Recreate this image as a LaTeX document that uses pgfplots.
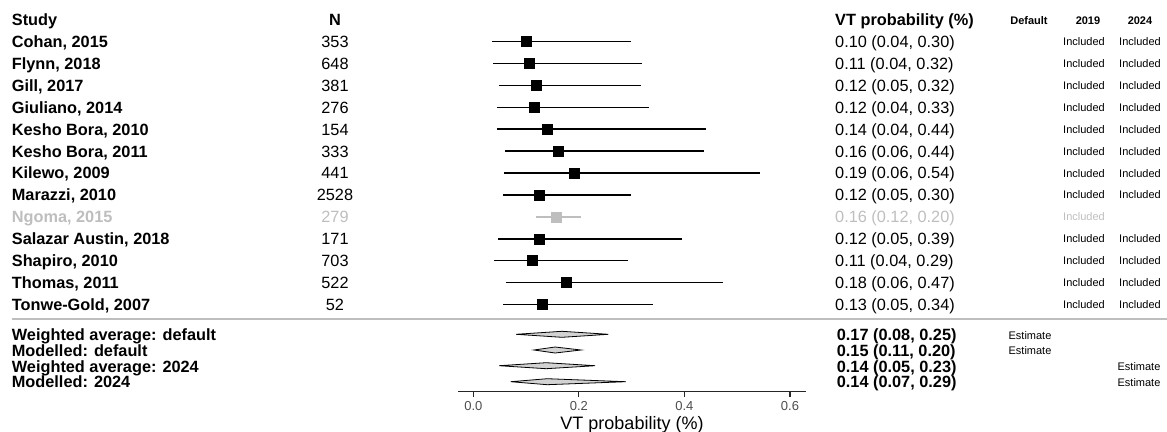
\documentclass[border=0pt]{standalone}
\usepackage{fontspec}
\setmainfont{Liberation Sans}
\usepackage{pgfplots}
\pgfplotsset{compat=1.18}
\usepackage{pgfplotstable}

\definecolor{dimgrey}{HTML}{BEBEBE}
\definecolor{ticklab}{HTML}{4D4D4D}
\definecolor{diamondfill}{HTML}{D3D3D3}

\newcommand\fbig{\fontsize{16.3bp}{18bp}\selectfont}
\newcommand\fsmall{\fontsize{11bp}{12bp}\selectfont}

% y = minus the row's distance from the top of the figure (bp)
\pgfplotstableread{
y        est     lo      hi
-41.6    0.100   0.036   0.299
-63.5    0.106   0.038   0.320
-85.4    0.119   0.049   0.318
-107.3   0.116   0.044   0.333
-129.2   0.140   0.045   0.440
-151.1   0.161   0.060   0.438
-173.0   0.191   0.059   0.543
-194.9   0.124   0.056   0.299
-238.7   0.124   0.047   0.395
-260.6   0.111   0.040   0.293
-282.5   0.176   0.062   0.473
-304.4   0.130   0.056   0.340
}\studies

\pgfplotstableread{
y        est     lo      hi
-216.8   0.158   0.118   0.204
}\ngoma

\begin{document}
\begin{tikzpicture}
\path[use as bounding box] (0,0) rectangle (1167bp,-432bp);

\begin{axis}[
  at={(458bp,-391.7bp)}, anchor=south west,
  scale only axis, width=348bp, height=391.7bp,
  xmin=-0.029, xmax=0.6304, ymin=-391.7, ymax=0,
  hide y axis, axis x line*=bottom,
  axis line style={-, line width=1.2bp, black!85},
  xtick={0,0.2,0.4,0.6},
  xticklabel style={/pgf/number format/fixed, /pgf/number format/fixed zerofill,
    /pgf/number format/precision=1, /pgf/number format/assume math mode=true,
    font=\fontsize{13bp}{13bp}\selectfont, text=ticklab, inner sep=0pt,
    anchor=base, yshift=-14bp},
  tick align=outside, major tick length=5bp,
  every tick/.style={black!85, line width=1.2bp},
  xlabel={VT probability (\%)},
  xlabel style={font=\fontsize{18bp}{18bp}\selectfont, inner sep=0pt,
    at={(axis description cs:0.5,0)}, anchor=base, yshift=-37.6bp},
  clip=false,
]
\addplot[black, only marks, mark=square*, mark size=5bp,
  error bars/.cd, x dir=both, x explicit, error mark=none,
  error bar style={line width=1.6bp, black}]
  table[x=est, y=y, x error plus expr=\thisrow{hi}-\thisrow{est},
        x error minus expr=\thisrow{est}-\thisrow{lo}] {\studies};
\addplot[dimgrey, only marks, mark=square*, mark size=5bp,
  error bars/.cd, x dir=both, x explicit, error mark=none,
  error bar style={line width=1.6bp, dimgrey}]
  table[x=est, y=y, x error plus expr=\thisrow{hi}-\thisrow{est},
        x error minus expr=\thisrow{est}-\thisrow{lo}] {\ngoma};
% summary diamonds: (lower, y) (estimate, top) (upper, y) (estimate, bottom)
\addplot[draw=black, fill=diamondfill, line width=0.8bp]
  coordinates {(0.081,-334.3) (0.168,-331.3) (0.256,-334.3) (0.168,-337.3)} -- cycle;
\addplot[draw=black, fill=diamondfill, line width=0.8bp]
  coordinates {(0.115,-350.0) (0.155,-347.0) (0.204,-350.0) (0.155,-353.0)} -- cycle;
\addplot[draw=black, fill=diamondfill, line width=0.8bp]
  coordinates {(0.049,-365.7) (0.138,-362.7) (0.231,-365.7) (0.138,-368.7)} -- cycle;
\addplot[draw=black, fill=diamondfill, line width=0.8bp]
  coordinates {(0.071,-381.7) (0.140,-378.7) (0.289,-381.7) (0.140,-384.7)} -- cycle;
\end{axis}

\begin{scope}[x=1bp, y=-1bp, every node/.style={inner sep=0pt}]
% headers
\node[anchor=base west, font=\fbig\bfseries] at (11.7,25.9) {Study};
\node[anchor=base, font=\fbig\bfseries] at (335,25.9) {N};
\node[anchor=base west, font=\fbig\bfseries] at (835,25.9) {VT probability (\%)};
\node[anchor=base, font=\fsmall\bfseries] at (1029,24.4) {Default};
\node[anchor=base, font=\fsmall\bfseries] at (1088,24.4) {2019};
\node[anchor=base, font=\fsmall\bfseries] at (1140,24.4) {2024};
% study rows
\foreach \nm/\n/\v/\yy in {
  {Cohan, 2015}/353/{0.10 (0.04, 0.30)}/41.6,
  {Flynn, 2018}/648/{0.11 (0.04, 0.32)}/63.5,
  {Gill, 2017}/381/{0.12 (0.05, 0.32)}/85.4,
  {Giuliano, 2014}/276/{0.12 (0.04, 0.33)}/107.3,
  {Kesho Bora, 2010}/154/{0.14 (0.04, 0.44)}/129.2,
  {Kesho Bora, 2011}/333/{0.16 (0.06, 0.44)}/151.1,
  {Kilewo, 2009}/441/{0.19 (0.06, 0.54)}/173.0,
  {Marazzi, 2010}/2528/{0.12 (0.05, 0.30)}/194.9,
  {Salazar Austin, 2018}/171/{0.12 (0.05, 0.39)}/238.7,
  {Shapiro, 2010}/703/{0.11 (0.04, 0.29)}/260.6,
  {Thomas, 2011}/522/{0.18 (0.06, 0.47)}/282.5,
  {Tonwe-Gold, 2007}/52/{0.13 (0.05, 0.34)}/304.4}{
  \node[anchor=base west, font=\fbig\bfseries] at (11.7,\yy+5.9) {\nm};
  \node[anchor=base, font=\fbig] at (335,\yy+5.9) {\n};
  \node[anchor=base west, font=\fbig] at (835,\yy+5.9) {\v};
  \node[anchor=base, font=\fsmall] at (1084,\yy+4) {Included};
  \node[anchor=base, font=\fsmall] at (1140,\yy+4) {Included};
}
% excluded study, in grey
\begin{scope}[every node/.append style={text=dimgrey}]
\node[anchor=base west, font=\fbig\bfseries] at (11.7,222.7) {Ngoma, 2015};
\node[anchor=base, font=\fbig] at (335,222.7) {279};
\node[anchor=base west, font=\fbig] at (835,222.7) {0.16 (0.12, 0.20)};
\node[anchor=base, font=\fsmall] at (1084,220.8) {Included};
\end{scope}
% separator
\draw[dimgrey, line width=1.8bp] (11.7,319) -- (1167,319);
% summary rows
\foreach \nm/\v/\yy in {
  {Weighted average: default}/{0.17 (0.08, 0.25)}/335,
  {Modelled: default}/{0.15 (0.11, 0.20)}/350.7,
  {Weighted average: 2024}/{0.14 (0.05, 0.23)}/366.3,
  {Modelled: 2024}/{0.14 (0.07, 0.29)}/382}{
  \node[anchor=base west, font=\fbig\bfseries] at (11.7,\yy+5.9) {\nm};
  \node[anchor=base west, font=\fbig\bfseries] at (836.7,\yy+5.9) {\v};
}
\node[anchor=base, font=\fsmall] at (1030,339) {Estimate};
\node[anchor=base, font=\fsmall] at (1030,354.7) {Estimate};
\node[anchor=base, font=\fsmall] at (1139,370.3) {Estimate};
\node[anchor=base, font=\fsmall] at (1139,386) {Estimate};
\end{scope}
\end{tikzpicture}
\end{document}
